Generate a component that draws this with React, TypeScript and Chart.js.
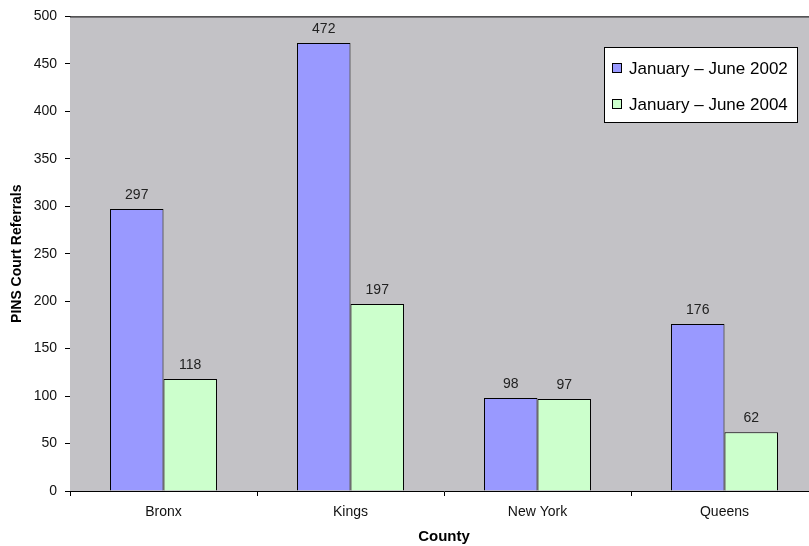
import React, { useEffect, useRef } from "react";
import { Chart, registerables } from "chart.js";

Chart.register(...registerables);

const categories = ["Bronx", "Kings", "New York", "Queens"];
const series2002 = [297, 472, 98, 176];
const series2004 = [118, 197, 97, 62];
const seriesLabels = ["January – June 2002", "January – June 2004"];
const yTitle = "PINS Court Referrals";
const xTitle = "County";

const FONT = "'Liberation Sans', Arial, sans-serif";

const plotBg = {
  id: "plotBg",
  beforeDatasetsDraw(chart: any) {
    const { ctx, chartArea } = chart;
    ctx.save();
    ctx.fillStyle = "#C3C2C6";
    ctx.fillRect(chartArea.left, chartArea.top, chartArea.right - chartArea.left, chartArea.bottom - chartArea.top);
    ctx.strokeStyle = "#000";
    ctx.lineWidth = 1;
    ctx.beginPath();
    ctx.moveTo(chartArea.left, chartArea.top + 0.5);
    ctx.lineTo(chartArea.right, chartArea.top + 0.5);
    ctx.stroke();
    ctx.restore();
  },
};

const valueLabels = {
  id: "valueLabels",
  afterDatasetsDraw(chart: any) {
    const { ctx } = chart;
    ctx.save();
    ctx.font = `14px ${FONT}`;
    ctx.fillStyle = "#222";
    ctx.textAlign = "center";
    ctx.textBaseline = "middle";
    chart.data.datasets.forEach((ds: any, i: number) => {
      const meta = chart.getDatasetMeta(i);
      meta.data.forEach((bar: any, j: number) => {
        ctx.fillText(String(ds.data[j]), bar.x, bar.y - 14);
      });
    });
    ctx.restore();
  },
};

const boxLegend = {
  id: "boxLegend",
  afterDraw(chart: any) {
    const { ctx } = chart;
    const x = 604, y = 47, w = 193, h = 75;
    ctx.save();
    ctx.fillStyle = "#fff";
    ctx.fillRect(x, y, w, h);
    ctx.strokeStyle = "#000";
    ctx.lineWidth = 1;
    ctx.strokeRect(x + 0.5, y + 0.5, w, h);
    ctx.font = `17px ${FONT}`;
    ctx.textBaseline = "middle";
    ctx.textAlign = "left";
    chart.data.datasets.forEach((ds: any, i: number) => {
      const cy = y + 21 + i * 36;
      ctx.fillStyle = ds.backgroundColor;
      ctx.fillRect(x + 8.5, cy - 4.5, 9, 9);
      ctx.strokeStyle = "#000";
      ctx.strokeRect(x + 8.5, cy - 4.5, 9, 9);
      ctx.fillStyle = "#000";
      ctx.fillText(ds.label, x + 25, cy + 1);
    });
    ctx.restore();
  },
};

export default function App() {
  const ref = useRef<HTMLCanvasElement>(null);
  useEffect(() => {
    if (!ref.current) return;
    const chart = new Chart(ref.current, {
      type: "bar",
      data: {
        labels: categories,
        datasets: [
          {
            label: seriesLabels[0],
            data: series2002,
            backgroundColor: "#9999FF",
            borderColor: "#000",
            borderWidth: 1,
            categoryPercentage: 0.572,
            barPercentage: 1,
          },
          {
            label: seriesLabels[1],
            data: series2004,
            backgroundColor: "#CCFFCC",
            borderColor: "#000",
            borderWidth: 1,
            categoryPercentage: 0.572,
            barPercentage: 1,
          },
        ],
      },
      plugins: [plotBg, valueLabels, boxLegend],
      options: {
        animation: false,
        responsive: false,
        maintainAspectRatio: false,
        layout: { padding: { top: 14, right: 0, left: 0, bottom: 0 } },
        plugins: {
          legend: { display: false },
          tooltip: { enabled: false },
          title: { display: false },
        },
        scales: {
          x: {
            grid: {
              display: true,
              drawOnChartArea: false,
              drawTicks: true,
              tickLength: 5,
              color: "#000",
              offset: true,
            },
            border: { display: true, color: "#000", width: 1 },
            ticks: {
              color: "#111",
              font: { family: FONT, size: 14 },
              padding: 8,
              maxRotation: 0,
            },
            title: {
              display: true,
              text: xTitle,
              color: "#000",
              font: { family: FONT, size: 15, weight: "bold" },
              padding: { top: 0, bottom: 0 },
            },
            afterFit(scale: any) {
              scale.height = 55;
            },
          },
          y: {
            min: 0,
            max: 500,
            grid: {
              display: true,
              drawOnChartArea: false,
              drawTicks: true,
              tickLength: 5,
              color: "#000",
            },
            border: { display: true, color: "#000", width: 1 },
            ticks: {
              stepSize: 50,
              color: "#111",
              font: { family: FONT, size: 14 },
              padding: 8,
            },
            title: {
              display: true,
              text: yTitle,
              color: "#000",
              font: { family: FONT, size: 14, weight: "bold" },
              padding: { top: 9, bottom: 0 },
            },
            afterFit(scale: any) {
              scale.width = 70;
            },
          },
        },
      },
    });
    return () => chart.destroy();
  }, []);
  return (
    <div style={{ position: "fixed", left: 0, top: 0, width: 809, height: 546, overflow: "hidden", background: "#fff" }}>
      <canvas ref={ref} width={818} height={546} style={{ width: 818, height: 546, display: "block" }} />
    </div>
  );
}
